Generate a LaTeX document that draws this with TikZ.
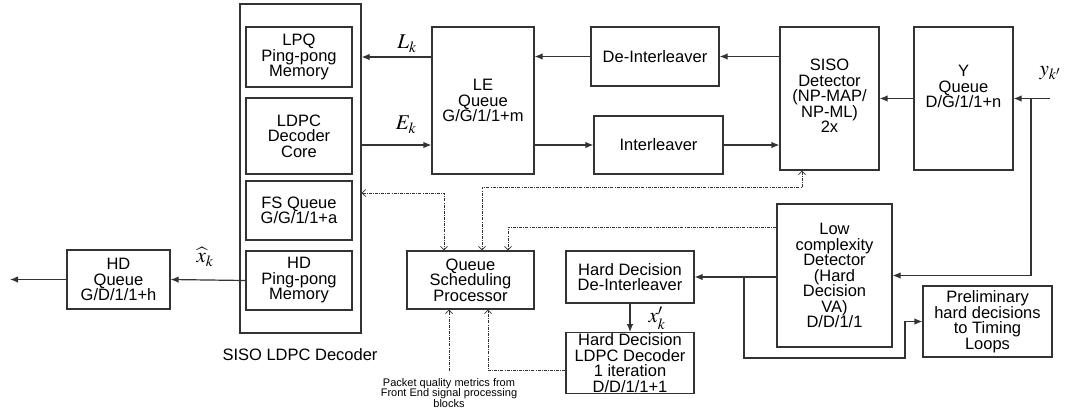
\documentclass[tikz,border=0pt]{standalone}
\usepackage{mathptmx}
\usepackage{fontspec}
\setmainfont{Liberation Sans}
\usepackage{tikz}
\tikzset{
  block_font/.style = {font=\fontsize{16.5}{15.5}\selectfont},
  small_font/.style = {font=\fontsize{11}{10.5}\selectfont},
  math_font/.style = {font=\fontsize{21}{21}\selectfont},
  line_colour/.style = {draw=black!80, line width=1.2pt}
}
\tikzset{
  block/.style = {block_font, line_colour, align=center, inner sep=1pt},
  caption/.style = {block_font, align=center, inner sep=1pt},
  banner/.style = {small_font, align=center, inner sep=1pt},
  sym/.style = {math_font, inner sep=0pt},
  arrow/.style = {line_colour, -{Latex[length=8pt,width=6.5pt]}},
  dash_line/.style = {draw=black!80, line width=0.8pt,
      dash pattern=on 3pt off 1.2pt on 0.8pt off 1.2pt},
  dash_arrow/.style = {dash_line, -{Straight Barb[length=3.5pt,width=7pt]}},
  dash_both/.style = {dash_line,
      {Straight Barb[length=3.5pt,width=7pt]}-{Straight Barb[length=3.5pt,width=7pt]}}
}
\usetikzlibrary{arrows.meta, calc}

\begin{document}
\begin{tikzpicture}[x=1pt, y=-1pt]
    \useasboundingbox (0,0) rectangle (1065,418);

    % SISO LDPC decoder
    \node[block, minimum width=121pt, minimum height=329pt] at (300.5,168.5) (dec) {};
    \node[caption] at (300,355) (dec_title) {SISO LDPC Decoder};
    \node[block, minimum width=106pt, minimum height=60pt] at (299,57) (lpq) {
        LPQ\\Ping-pong\\Memory};
    \node[block, minimum width=106pt, minimum height=76pt] at (299,136) (core) {
        LDPC\\Decoder\\Core};
    \node[block, minimum width=106pt, minimum height=59pt] at (299,210.5) (fsq) {
        FS Queue\\G/G/1/1+a};
    \node[block, minimum width=106pt, minimum height=59pt] at (299,280.5) (hdpp) {
        HD\\Ping-pong\\Memory};

    % Queues and detectors
    \node[block, minimum width=103pt, minimum height=59pt] at (118.5,279.5) (hdq) {
        HD\\Queue\\G/D/1/1+h};
    \node[block, minimum width=102pt, minimum height=147pt] at (483,100.5) (leq) {
        LE\\Queue\\G/G/1/1+m};
    \node[block, minimum width=128pt, minimum height=59pt] at (655,56.5) (deint) {
        De-Interleaver};
    \node[block, minimum width=129pt, minimum height=58pt] at (658.5,145) (intl) {
        Interleaver};
    \node[block, minimum width=99pt, minimum height=143pt, text depth=5pt] at (829.5,98.5) (siso) {
        SISO\\Detector\\(NP-MAP/\\NP-ML)\\2x};
    \node[block, minimum width=99pt, minimum height=143pt, text depth=24pt] at (963.5,98.5) (yq) {
        Y\\Queue\\D/G/1/1+n};
    \node[block, minimum width=127pt, minimum height=58pt] at (470.5,280) (qsp) {
        Queue\\Scheduling\\Processor};
    \node[block, minimum width=128pt, minimum height=52pt] at (630,277) (hddi) {
        Hard Decision\\De-Interleaver};
    \node[block, minimum width=128pt, minimum height=60pt] at (630,363) (hdldpc) {
        Hard Decision\\LDPC Decoder\\1 iteration\\D/D/1/1+1};
    \node[block, minimum width=115pt, minimum height=143pt] at (834.5,275.5) (lcd) {
        Low\\complexity\\Detector\\(Hard\\Decision\\VA)\\D/D/1/1};
    \node[block, minimum width=129pt, minimum height=71pt] at (987.5,321.5) (prelim) {
        Preliminary\\hard decisions\\to Timing\\Loops};
    \node[banner] at (449,393) (metrics) {
        Packet quality metrics from\\Front End signal processing\\blocks};

    % Signal labels
    \node[sym] at (407,44) (lk_lbl) {$L_k$};
    \node[sym] at (406,125) (ek_lbl) {$E_k$};
    \node[sym] at (205,257) (xhat_lbl) {$\widehat{x}_k$};
    \node[sym] at (1050,73) (yk_lbl) {$y_{k'}$};
    \node[sym] at (657,318) (xk_lbl) {$x'_k$};

    \coordinate (hd_out) at (10,279.5);
    \coordinate (y_in) at (1050,98.5);
    \coordinate (y_split) at (1031,98.5);
    \coordinate (hd_split) at (744,277);
    \coordinate (prelim_turn) at (905,358);

    % Arrows and lines
    \draw[arrow] (hdpp.west) -- (hdq.east);
    \draw[arrow] (hdq.west) -- (hd_out);
    \draw[arrow] (leq.west |- lpq.east) -- (dec.east |- lpq.east);
    \draw[arrow] (dec.east |- intl.west) -- (leq.west |- intl.west);
    \draw[arrow] (leq.east |- intl.west) -- (intl.west);
    \draw[arrow] (intl.east) -- (siso.west |- intl.east);
    \draw[arrow] (siso.west |- deint.east) -- (deint.east);
    \draw[arrow] (deint.west) -- (leq.east |- deint.west);
    \draw[arrow] (yq.west) -- (siso.east);
    \draw[arrow] (y_in) -- (yq.east);
    \draw[arrow] (y_split) |- (lcd.east);
    \draw[arrow] (lcd.west |- hddi.east) -- (hddi.east);
    \draw[arrow] (hd_split) |- (prelim_turn) |- (prelim.west);
    \draw[arrow] (hddi.south) -- (hdldpc.north);

    % Scheduling links
    \draw[dash_both] (dec.east |- 0,193) -| ([xshift=-26.5pt]qsp.north);
    \draw[dash_both] ([xshift=-27.5pt]siso.south) -- ++(0,17) -| ([xshift=11.5pt]qsp.north);
    \draw[dash_arrow] (lcd.west |- 0,227) -| ([xshift=37.5pt]qsp.north);
    \draw[dash_arrow] ([yshift=6pt]metrics.north) -- (qsp.south -| metrics.north);
    \draw[dash_arrow] (hdldpc.west |- 0,370) -| ([xshift=17.5pt]qsp.south);
\end{tikzpicture}
\end{document}
